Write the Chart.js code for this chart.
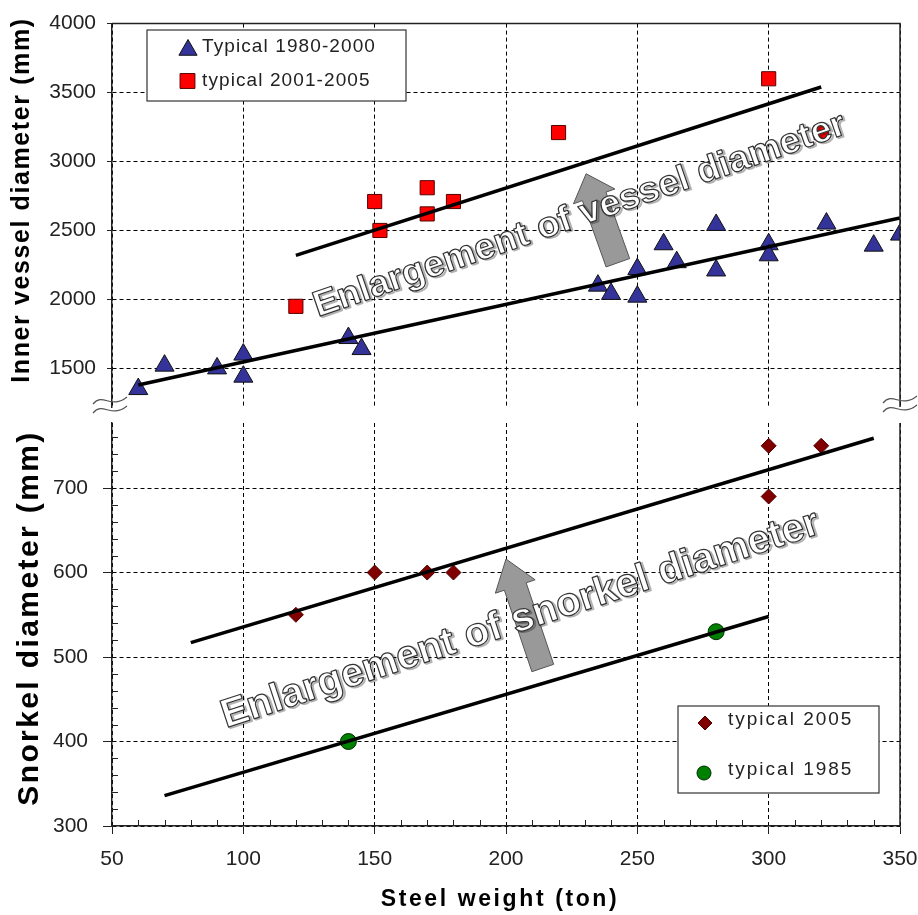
<!DOCTYPE html>
<html>
<head>
<meta charset="utf-8">
<title>Vessel and snorkel diameter vs steel weight</title>
<script src="https://cdn.jsdelivr.net/npm/chart.js@4.4.1/dist/chart.umd.min.js"></script>
<style>
  html, body { margin: 0; padding: 0; background: #fff; }
  .wrap { position: relative; width: 918px; height: 915px; }
  .wrap canvas { position: absolute; left: 0; top: 0; }
</style>
</head>
<body>
<div class="wrap">
  <canvas id="vesselChart" width="918" height="915"></canvas>
  <canvas id="snorkelChart" width="918" height="915"></canvas>
</div>
<script>
// ---- values ----
// upper panel: inner vessel diameter (mm)
const weight1980 = [60, 70, 90, 100, 100, 140, 145, 235, 240, 250, 250, 260, 265, 280, 280, 300, 300, 322, 340, 350];
const vessel1980 = [1350, 1520, 1500, 1600, 1440, 1720, 1640, 2100, 2040, 2020, 2220, 2400, 2270, 2540, 2210, 2400, 2320, 2550, 2390, 2470];
const weight2001 = [120, 150, 152, 170, 170, 180, 220, 300, 320];
const vessel2001 = [1950, 2710, 2500, 2810, 2620, 2710, 3210, 3600, 3210];
// lower panel: snorkel diameter (mm)
const weight2005 = [120, 150, 170, 180, 300, 300, 320];
const snorkel2005 = [550, 600, 600, 600, 750, 690, 750];
const weight1985 = [140, 280];
const snorkel1985 = [400, 530];
// trend lines (end points)
const trend1980X = [60, 350];
const trend1980Y = [1380, 2590];
const trend2001X = [120, 320];
const trend2001Y = [2320, 3540];
const trend2005X = [80, 340];
const trend2005Y = [517, 759];
const trend1985X = [70, 300];
const trend1985Y = [336, 548];
// axes
const weightRange = [50, 350];
const weightTicks = [50, 100, 150, 200, 250, 300, 350];
const vesselRange = [1220, 4000];
const vesselTicks = [1500, 2000, 2500, 3000, 3500, 4000];
const snorkelRange = [300, 777];
const snorkelTicks = [300, 400, 500, 600, 700];

// annotation anchors, in data units
const vesselArrow = { tail: [242.6, 2266], tip: [230.5, 2911] };
const vesselText = { start: [128.4, 1872], end: [330.2, 3205] };
const snorkelArrow = { tail: [214, 487], tip: [200, 616] };
const snorkelText = { start: [93.4, 416], end: [320.3, 647] };

const FONT = '"Liberation Sans", Arial, Helvetica, sans-serif';
Chart.defaults.font.family = FONT;

function pts(xs, ys) {
  return xs.map((x, i) => ({ x: x, y: ys[i] }));
}

function useTicks(list) {
  return scale => { scale.ticks = list.map(v => ({ value: v })); };
}

function drawMarker(ctx, style, cx, cy, r, fill, stroke) {
  ctx.beginPath();
  if (style === 'triangle') {
    ctx.moveTo(cx, cy - r);
    ctx.lineTo(cx + r * 0.866, cy + r * 0.5);
    ctx.lineTo(cx - r * 0.866, cy + r * 0.5);
    ctx.closePath();
  } else if (style === 'rect') {
    const s = r * Math.SQRT1_2;
    ctx.rect(cx - s, cy - s, 2 * s, 2 * s);
  } else if (style === 'rectRot') {
    ctx.moveTo(cx, cy - r);
    ctx.lineTo(cx + r, cy);
    ctx.lineTo(cx, cy + r);
    ctx.lineTo(cx - r, cy);
    ctx.closePath();
  } else {
    ctx.arc(cx, cy, r, 0, Math.PI * 2);
  }
  ctx.fillStyle = fill;
  ctx.fill();
  ctx.lineWidth = 1;
  ctx.strokeStyle = stroke;
  ctx.stroke();
}

function drawLegend(ctx, box, items, spacing) {
  ctx.save();
  ctx.fillStyle = '#fff';
  ctx.fillRect(box.x, box.y, box.w, box.h);
  ctx.strokeStyle = '#333';
  ctx.lineWidth = 1.2;
  ctx.strokeRect(box.x, box.y, box.w, box.h);
  ctx.font = '19px ' + FONT;
  ctx.letterSpacing = spacing + 'px';
  ctx.textBaseline = 'middle';
  ctx.textAlign = 'left';
  items.forEach(it => {
    drawMarker(ctx, it.style, it.mx, it.my, it.r, it.fill, it.stroke);
    ctx.fillStyle = '#222';
    ctx.fillText(it.text, it.tx, it.ty);
  });
  ctx.restore();
}

function drawTitle(ctx, text, cx, cy, rot, font, spacing) {
  ctx.save();
  ctx.translate(cx, cy);
  ctx.rotate(rot);
  ctx.font = font;
  ctx.letterSpacing = spacing + 'px';
  ctx.fillStyle = '#000';
  ctx.textAlign = 'center';
  ctx.textBaseline = 'middle';
  ctx.fillText(text, 0, 0);
  ctx.restore();
}

function drawBlockArrow(ctx, tail, tip, shaftW, headW, headL) {
  const dx = tip.x - tail.x, dy = tip.y - tail.y;
  const len = Math.hypot(dx, dy);
  const ux = dx / len, uy = dy / len;
  const nx = -uy, ny = ux;
  const neck = { x: tip.x - ux * headL, y: tip.y - uy * headL };
  const p = (b, w) => [b.x + nx * w, b.y + ny * w];
  const poly = [p(tail, shaftW / 2), p(neck, shaftW / 2), p(neck, headW / 2), [tip.x, tip.y],
    p(neck, -headW / 2), p(neck, -shaftW / 2), p(tail, -shaftW / 2)];
  ctx.save();
  ctx.beginPath();
  poly.forEach((q, i) => (i ? ctx.lineTo(q[0], q[1]) : ctx.moveTo(q[0], q[1])));
  ctx.closePath();
  ctx.fillStyle = '#999';
  ctx.fill();
  ctx.strokeStyle = '#555';
  ctx.lineWidth = 1;
  ctx.stroke();
  ctx.restore();
}

function drawOutlinedText(ctx, text, a, b, size) {
  const len = Math.hypot(b.x - a.x, b.y - a.y);
  const ang = Math.atan2(b.y - a.y, b.x - a.x);
  ctx.save();
  ctx.translate(a.x, a.y);
  ctx.rotate(ang);
  ctx.font = 'bold ' + size + 'px ' + FONT;
  const w = ctx.measureText(text).width;
  ctx.scale(len / w, 1);
  ctx.textBaseline = 'alphabetic';
  ctx.lineJoin = 'round';
  // soft grey shadow, then white letters with a dark outline
  ctx.strokeStyle = 'rgba(0,0,0,0.3)';
  ctx.lineWidth = 2;
  ctx.strokeText(text, 1.5, 1.5);
  ctx.fillStyle = '#fff';
  ctx.fillText(text, 0, 0);
  ctx.strokeStyle = '#333';
  ctx.lineWidth = 1.2;
  ctx.strokeText(text, 0, 0);
  ctx.restore();
}

function drawBreak(ctx, cx, cy) {
  ctx.save();
  ctx.strokeStyle = '#555';
  ctx.lineWidth = 1.2;
  [0, 9].forEach(d => {
    ctx.beginPath();
    ctx.moveTo(cx - 17, cy + d + 3);
    ctx.bezierCurveTo(cx - 7, cy + d - 9, cx + 1, cy + d + 9, cx + 17, cy + d - 4);
    ctx.stroke();
  });
  ctx.restore();
}

function fixYWidth(scale) { scale.width = 112; }

function toPx(chart, v) {
  return { x: chart.scales.x.getPixelForValue(v[0]), y: chart.scales.y.getPixelForValue(v[1]) };
}

const vesselDecor = {
  id: 'vesselDecor',
  afterDatasetsDraw(chart) {
    const ctx = chart.ctx;
    drawBlockArrow(ctx, toPx(chart, vesselArrow.tail), toPx(chart, vesselArrow.tip), 25, 44, 24);
    drawOutlinedText(ctx, 'Enlargement of vessel diameter', toPx(chart, vesselText.start), toPx(chart, vesselText.end), 36);
  },
  afterDraw(chart) {
    const { ctx, chartArea: a } = chart;
    ctx.save();
    ctx.strokeStyle = '#222';
    ctx.lineWidth = 1.5;
    ctx.beginPath();
    ctx.moveTo(a.left, a.top);
    ctx.lineTo(a.right, a.top);
    ctx.lineTo(a.right, a.bottom);
    ctx.stroke();
    ctx.restore();
    drawLegend(ctx, { x: 147, y: 30, w: 259, h: 71 }, [
      { style: 'triangle', mx: 188, my: 50, r: 10.5, fill: '#333399', stroke: '#111', text: 'Typical 1980-2000', tx: 202, ty: 47 },
      { style: 'rect', mx: 187.5, my: 81, r: 10.5, fill: '#ff0000', stroke: '#500', text: 'typical 2001-2005', tx: 202, ty: 81 }
    ], 1.1);
    drawTitle(ctx, 'Inner vessel diameter (mm)', 22, 200, -Math.PI / 2, 'bold 25px ' + FONT, 1.6);
  }
};

const snorkelDecor = {
  id: 'snorkelDecor',
  afterDatasetsDraw(chart) {
    const ctx = chart.ctx;
    drawBlockArrow(ctx, toPx(chart, snorkelArrow.tail), toPx(chart, snorkelArrow.tip), 23, 42, 29);
    drawOutlinedText(ctx, 'Enlargement of snorkel diameter', toPx(chart, snorkelText.start), toPx(chart, snorkelText.end), 40);
  },
  afterDraw(chart) {
    const { ctx, chartArea: a } = chart;
    ctx.save();
    ctx.strokeStyle = '#222';
    ctx.lineWidth = 1.5;
    ctx.beginPath();
    ctx.moveTo(a.right, a.top);
    ctx.lineTo(a.right, a.bottom);
    ctx.stroke();
    // minor ticks, pointing inside
    ctx.lineWidth = 1;
    const xs = chart.scales.x, ys = chart.scales.y;
    ctx.beginPath();
    for (let v = weightRange[0] + 10; v < weightRange[1]; v += 10) {
      if (weightTicks.includes(v)) continue;
      const p = Math.round(xs.getPixelForValue(v)) + 0.5;
      ctx.moveTo(p, a.bottom);
      ctx.lineTo(p, a.bottom - 6);
    }
    for (let v = snorkelRange[0] + 20; v < snorkelRange[1]; v += 20) {
      if (snorkelTicks.includes(v) || v % 100 === 0) continue;
      const p = Math.round(ys.getPixelForValue(v)) + 0.5;
      ctx.moveTo(a.left, p);
      ctx.lineTo(a.left + 6, p);
    }
    ctx.stroke();
    ctx.restore();
    drawBreak(ctx, 110, 401);
    drawBreak(ctx, 900, 400);
    drawLegend(ctx, { x: 678, y: 706, w: 201, h: 87 }, [
      { style: 'rectRot', mx: 705, my: 723, r: 7, fill: '#800000', stroke: '#4d0000', text: 'typical 2005', tx: 728, ty: 720 },
      { style: 'circle', mx: 704, my: 773, r: 7, fill: '#008000', stroke: '#002a00', text: 'typical 1985', tx: 728, ty: 770 }
    ], 2);
    drawTitle(ctx, 'Snorkel diameter (mm)', 30, 618, -Math.PI / 2, 'bold 30px ' + FONT, 2.4);
    drawTitle(ctx, 'Steel weight (ton)', 500, 900, 0, 'bold 23px ' + FONT, 2.6);
  }
};

const lineStyle = { showLine: true, borderColor: '#000', borderWidth: 3.5, pointRadius: 0, order: 0 };
const tickFont = { size: 21 };
const plain = v => String(v);

new Chart(document.getElementById('vesselChart'), {
  type: 'scatter',
  data: {
    datasets: [
      Object.assign({ label: 'trend 1980-2000', data: pts(trend1980X, trend1980Y) }, lineStyle),
      Object.assign({ label: 'trend 2001-2005', data: pts(trend2001X, trend2001Y) }, lineStyle),
      { label: 'Typical 1980-2000', data: pts(weight1980, vessel1980), pointStyle: 'triangle', pointRadius: 11,
        backgroundColor: '#333399', borderColor: '#111', borderWidth: 1, order: 1 },
      { label: 'typical 2001-2005', data: pts(weight2001, vessel2001), pointStyle: 'rect', pointRadius: 10,
        backgroundColor: '#ff0000', borderColor: '#500', borderWidth: 1, order: 1 }
    ]
  },
  options: {
    responsive: false,
    animation: false,
    layout: { padding: { left: 0, right: 18, top: 19, bottom: 508 } },
    plugins: { legend: { display: false }, tooltip: { enabled: false } },
    scales: {
      x: {
        type: 'linear', min: weightRange[0], max: weightRange[1],
        afterBuildTicks: useTicks(weightTicks),
        ticks: { display: false },
        grid: { color: '#000', drawTicks: false },
        border: { display: false, dash: [4, 3] },
        afterFit: s => { s.height = 0; s.paddingLeft = 0; s.paddingRight = 0; }
      },
      y: {
        min: vesselRange[0], max: vesselRange[1],
        afterBuildTicks: useTicks(vesselTicks),
        ticks: { padding: 11, color: '#222', font: tickFont, callback: plain },
        grid: { color: '#000', tickColor: '#222', tickLength: 5 },
        border: { color: '#222', width: 1.5, dash: [4, 3] },
        afterFit: fixYWidth
      }
    }
  },
  plugins: [vesselDecor]
});

new Chart(document.getElementById('snorkelChart'), {
  type: 'scatter',
  data: {
    datasets: [
      Object.assign({ label: 'trend 2005', data: pts(trend2005X, trend2005Y) }, lineStyle),
      Object.assign({ label: 'trend 1985', data: pts(trend1985X, trend1985Y) }, lineStyle),
      { label: 'typical 2005', data: pts(weight2005, snorkel2005), pointStyle: 'rectRot', pointRadius: 7.5,
        backgroundColor: '#800000', borderColor: '#4d0000', borderWidth: 1, order: 1 },
      { label: 'typical 1985', data: pts(weight1985, snorkel1985), pointStyle: 'circle', pointRadius: 8,
        backgroundColor: '#008000', borderColor: '#002a00', borderWidth: 1, order: 1 }
    ]
  },
  options: {
    responsive: false,
    animation: false,
    layout: { padding: { left: 0, right: 18, top: 423, bottom: 0 } },
    plugins: { legend: { display: false }, tooltip: { enabled: false } },
    scales: {
      x: {
        type: 'linear', min: weightRange[0], max: weightRange[1],
        afterBuildTicks: useTicks(weightTicks),
        ticks: { padding: 13, color: '#222', font: tickFont, maxRotation: 0, callback: plain },
        grid: { color: '#000', tickColor: '#222', tickLength: 8 },
        border: { color: '#222', width: 1.5, dash: [4, 3] },
        afterFit: s => { s.height = 89; s.paddingLeft = 0; s.paddingRight = 0; }
      },
      y: {
        min: snorkelRange[0], max: snorkelRange[1],
        afterBuildTicks: useTicks(snorkelTicks),
        ticks: { padding: 15, color: '#222', font: tickFont, callback: plain },
        grid: { color: '#000', tickColor: '#222', tickLength: 9 },
        border: { color: '#222', width: 1.5, dash: [4, 3] },
        afterFit: fixYWidth
      }
    }
  },
  plugins: [snorkelDecor]
});
</script>
</body>
</html>
